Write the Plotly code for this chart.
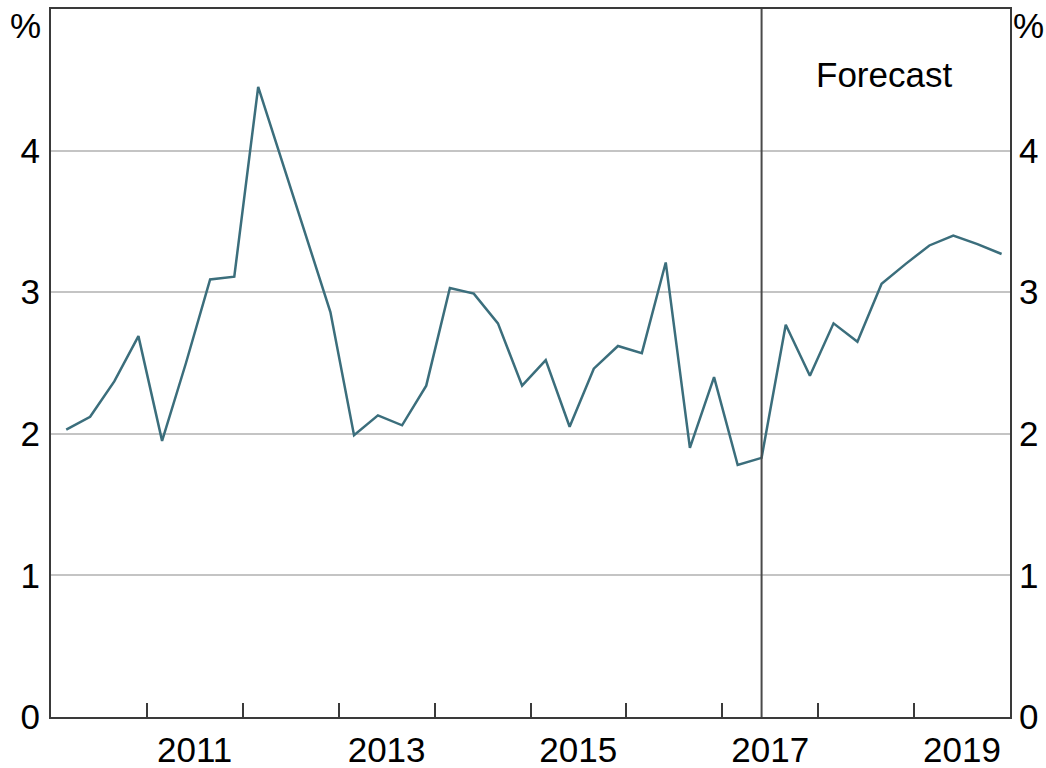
import plotly.graph_objects as go
import pandas as pd

# Quarterly series, 2010 Q1 – 2019 Q4 (per cent)
quarters = [f"{y}Q{q}" for y in range(2010, 2020) for q in range(1, 5)]
values = [
    2.03, 2.12, 2.37, 2.69,   # 2010
    1.95, 2.50, 3.09, 3.11,   # 2011
    4.45, 3.92, 3.39, 2.86,   # 2012
    1.99, 2.13, 2.06, 2.34,   # 2013
    3.03, 2.99, 2.78, 2.34,   # 2014
    2.52, 2.05, 2.46, 2.62,   # 2015
    2.57, 3.21, 1.90, 2.40,   # 2016
    1.78, 1.83, 2.77, 2.41,   # 2017
    2.78, 2.65, 3.06, 3.20,   # 2018
    3.33, 3.40, 3.34, 3.27,   # 2019
]
forecast_start = "2017Q2"
y_ticks = [0, 1, 2, 3, 4]
year_ticks = list(range(2010, 2021))
label_years = [2011, 2013, 2015, 2017, 2019]

# plot each quarter in the middle of its final month
dates = [(pd.Period(q, freq="Q").end_time - pd.DateOffset(months=1)).normalize() for q in quarters]
fc_date = dates[quarters.index(forecast_start)]

LINE = "#3b6e7c"
AXIS = "#3a3a3a"
GRID = "#c4c4c4"
FONT = "Arial, Liberation Sans, sans-serif"
FS = 35

fig = go.Figure()
fig.add_trace(go.Scatter(x=dates, y=values, mode="lines",
                         line=dict(color=LINE, width=2.5), showlegend=False,
                         hoverinfo="x+y"))
fig.add_trace(go.Scatter(x=dates, y=values, mode="lines", yaxis="y2",
                         line=dict(color=LINE, width=0), opacity=0,
                         showlegend=False, hoverinfo="skip"))

fig.add_shape(type="line", xref="x", yref="paper", x0=fc_date, x1=fc_date,
              y0=0, y1=1, line=dict(color="#4a4a4a", width=2))

fig.add_annotation(x="2018-09-10", y=4.54, xref="x", yref="y", text="Forecast",
                   showarrow=False, font=dict(size=FS, color="#000", family=FONT))
fig.add_annotation(x=0, y=0.977, xref="paper", yref="paper", text="%",
                   showarrow=False, xanchor="right", yanchor="middle", xshift=-9,
                   borderpad=0,
                   font=dict(size=FS, color="#000", family=FONT))
fig.add_annotation(x=1, y=0.977, xref="paper", yref="paper", text="%",
                   showarrow=False, xanchor="left", yanchor="middle", xshift=2,
                   borderpad=0,
                   font=dict(size=FS, color="#000", family=FONT))

fig.update_layout(
    width=1046, height=768,
    margin=dict(l=51, r=36, t=9, b=51),
    paper_bgcolor="white", plot_bgcolor="white",
    font=dict(family=FONT, size=FS, color="#000"),
    xaxis=dict(
        type="date", automargin=False,
        range=[f"{year_ticks[0]}-01-01", f"{year_ticks[-1]}-01-01"],
        tickmode="array",
        tickvals=[f"{y}-07-02" for y in label_years],
        ticktext=[str(y) for y in label_years],
        ticks="", showgrid=False, zeroline=False,
        showline=True, linecolor=AXIS, linewidth=2, mirror=True,
        tickfont=dict(size=FS, family=FONT, color="#000"),
        ticklabelstandoff=1,
        minor=dict(tickmode="array",
                   tickvals=[f"{y}-01-01" for y in year_ticks[1:-1]],
                   ticks="inside", ticklen=14, tickwidth=2, tickcolor=AXIS,
                   showgrid=False),
        fixedrange=True,
    ),
    yaxis=dict(
        range=[0, 5], tickmode="array", tickvals=y_ticks, automargin=False,
        ticktext=[str(v) for v in y_ticks],
        ticks="", showgrid=True, gridcolor=GRID, gridwidth=1.5,
        zeroline=False, showline=True, linecolor=AXIS, linewidth=2,
        tickfont=dict(size=FS, family=FONT, color="#000"),
        ticklabelstandoff=2,
    ),
    yaxis2=dict(
        range=[0, 5], overlaying="y", side="right", anchor="x", automargin=False,
        tickmode="array", tickvals=y_ticks,
        ticktext=[str(v) for v in y_ticks],
        ticks="", showgrid=False, zeroline=False,
        showline=True, linecolor=AXIS, linewidth=2,
        tickfont=dict(size=FS, family=FONT, color="#000"),
        ticklabelstandoff=0,
    ),
)

fig.write_html("out.html",
               config={"displayModeBar": False},
               post_script="document.body.style.margin='0';document.body.style.overflow='hidden';")
